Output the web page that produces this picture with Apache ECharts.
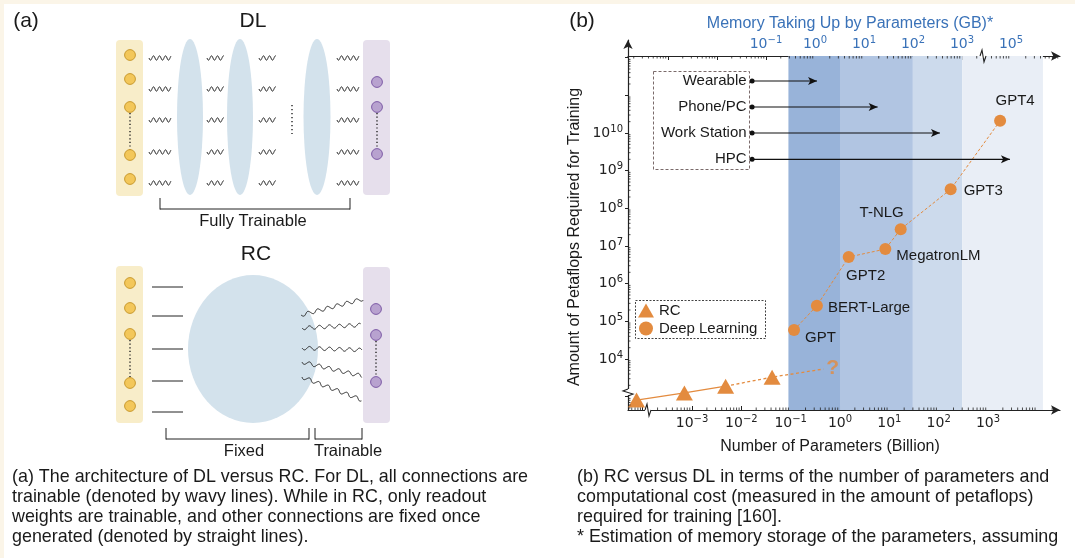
<!DOCTYPE html>
<html><head><meta charset="utf-8">
<script src="https://cdn.jsdelivr.net/npm/echarts@6/dist/echarts.min.js"></script>
<style>html,body{margin:0;padding:0;background:#FBF5E8}#c{width:1075px;height:558px}</style>
</head><body><div id="c"></div><script>
// ---------- DATA ----------
const dlNames = ['GPT', 'BERT-Large', 'GPT2', 'MegatronLM', 'T-NLG', 'GPT3', 'GPT4'];
const dlParams = [0.117, 0.34, 1.5, 8.3, 17, 175, 1760];          // billion
const dlPetaflops = [5.9e4, 2.6e5, 5.1e6, 8.3e6, 2.8e7, 3.2e8, 2.1e10];
const rcParams = [7.5e-5, 7e-4, 4.8e-3, 4.2e-2];
const rcPetaflops = [810, 1260, 1900, 3300];
const rcProjection = [0.46, 5400];
const rcProjectionLabel = '?';
const devices = ['Wearable', 'Phone/PC', 'Work Station', 'HPC'];
const deviceStartGB = [0.052, 0.052, 0.052, 0.052];
const deviceEndGB = [1.1, 19, 355, 9500];
const deviceRow = [2.4e11, 4.9e10, 1.0e10, 2.0e9];
const bandEdgesParams = [0.09, 1, 30, 300, 13000];
const yTickExps = [4, 5, 6, 7, 8, 9, 10];
const yTickSup = ['4', '5', '6', '7', '8', '9', '10'];
const xTickExps = [-3, -2, -1, 0, 1, 2, 3];
const xTickSup = ['−3', '−2', '−1', '0', '1', '2', '3'];
const memTickExps = [-1, 0, 1, 2, 3, 4];
const memTickSup = ['−1', '0', '1', '2', '3', '5'];
const captionA = ['(a) The architecture of DL versus RC. For DL, all connections are',
  'trainable (denoted by wavy lines). While in RC, only readout',
  'weights are trainable, and other connections are fixed once',
  'generated (denoted by straight lines).'];
const captionB = ['(b) RC versus DL in terms of the number of parameters and',
  'computational cost (measured in the amount of petaflops)',
  'required for training [160].',
  '* Estimation of memory storage of the parameters, assuming'];

// ---------- STYLE ----------
const ORANGE = '#E38B3F';
const BLUE = '#3A72B8';
const bandColors = ['#98B3D9', '#B1C5E2', '#CCDAEC', '#E9EEF6'];
const TXT = '#1a1a1a';
const SANS = '"Liberation Sans", Arial, sans-serif';
const DV = '"DejaVu Sans", sans-serif';
const X_MIN = Math.pow(10, -4.298), X_MAX = Math.pow(10, 4.46);
const M_MIN = Math.pow(10, -3.816), M_MAX = Math.pow(10, 5.0);
const Y_MIN = Math.pow(10, 2.646), Y_MAX = Math.pow(10, 12.469), Y_TOPAXIS = Math.pow(10, 12.044);

function labelFor(exps, sups) {
  return function (v) {
    const e = Math.log10(v), r = Math.round(e);
    if (Math.abs(e - r) > 1e-6) return '';
    const i = exps.indexOf(r);
    return i < 0 ? '' : '{b|10}{s|' + sups[i] + '}';
  };
}
function richFor(color) {
  return {
    b: {fontSize: 14, fontFamily: DV, color: color, lineHeight: 18},
    s: {fontSize: 10, fontFamily: DV, color: color, lineHeight: 11, verticalAlign: 'top'}
  };
}

// ---------- PANEL (a) GRAPHICS ----------
const g = [];
g.push({type: 'rect', z: -10, shape: {x: 4, y: 4, width: 1071, height: 554}, style: {fill: '#fff'}});
function text(t, x, y, size, opts) {
  opts = opts || {};
  g.push({type: 'text', z: 50, x: x, y: y, rotation: opts.rot || 0, style: {
    text: t, fontSize: size, fontFamily: opts.font || SANS, fill: opts.color || TXT,
    fontWeight: opts.weight || 'normal',
    align: opts.align || 'center', verticalAlign: opts.va || 'middle',
    textAlign: opts.align || 'center', textVerticalAlign: opts.va || 'middle',
    lineHeight: opts.lh || size}});
}
function line(x1, y1, x2, y2, st) {
  g.push({type: 'line', z: 20, shape: {x1: x1, y1: y1, x2: x2, y2: y2}, style: Object.assign({stroke: '#222', lineWidth: 1}, st || {})});
}
function wave(x0, y0, x1, y1, amp, period) {
  const dx = x1 - x0, dy = y1 - y0, L = Math.hypot(dx, dy), ux = dx / L, uy = dy / L;
  const pts = [];
  for (let s = 0; s <= L; s += 0.4) {
    const o = amp * Math.sin(2 * Math.PI * s / period);
    pts.push([x0 + ux * s - uy * o, y0 + uy * s + ux * o]);
  }
  g.push({type: 'polyline', z: 20, shape: {points: pts}, style: {stroke: '#222', lineWidth: 1, fill: null}});
}
function ell(cx, cy, rx, ry, fill) {
  g.push({type: 'circle', z: 5, x: cx, y: cy, scaleX: rx, scaleY: ry, shape: {cx: 0, cy: 0, r: 1}, style: {fill: fill}});
}
function node(cx, cy, fill, stroke) {
  g.push({type: 'circle', z: 21, shape: {cx: cx, cy: cy, r: 5.4}, style: {fill: fill, stroke: stroke, lineWidth: 1}});
}
function box(x, y, w, h, fill) {
  g.push({type: 'rect', z: 4, shape: {x: x, y: y, width: w, height: h, r: 4}, style: {fill: fill}});
}
const YF = '#F8EDC9', YC = '#F3C75A', YS = '#C99A2E', PF = '#E6DFEC', PC = '#B8A2CF', PS = '#7D5AA6', EL = '#D3E2EC';
text('(a)', 26, 21, 21);
text('(b)', 582, 21, 21);
// DL
text('DL', 253, 21, 21);
box(116, 40, 27, 156, YF);
box(363, 40, 27, 155, PF);
[55, 79, 107, 155, 179].forEach(y => node(130, y, YC, YS));
line(130, 113, 130, 150, {lineDash: [1.2, 2.4], lineWidth: 1.4});
[82, 107, 154].forEach(y => node(377, y, PC, PS));
line(377, 113, 377, 149, {lineDash: [1.2, 2.4], lineWidth: 1.4});
ell(190, 117, 13, 78, EL); ell(240, 117, 13, 78, EL); ell(317, 117, 13.5, 78, EL);
line(292, 105, 292, 134, {lineDash: [1.2, 2.8], lineWidth: 1.4});
const dlRows = [58, 89, 120, 152, 183];
[[149, 171], [207, 224], [259, 276], [337, 359]].forEach(c => dlRows.forEach(y => wave(c[0], y, c[1], y, 2.2, 6)));
line(160, 209, 350, 209); line(160, 198, 160, 209.5); line(350, 198, 350, 209.5);
text('Fully Trainable', 253, 221, 16.5);
// RC
text('RC', 256, 254, 21);
box(116, 266, 27, 157, YF);
box(363, 267, 27, 156, PF);
[283, 308, 334, 383, 406].forEach(y => node(130, y, YC, YS));
line(130, 340, 130, 378, {lineDash: [1.2, 2.4], lineWidth: 1.4});
[309, 335, 382].forEach(y => node(376, y, PC, PS));
line(376, 341, 376, 377, {lineDash: [1.2, 2.4], lineWidth: 1.4});
ell(253, 349, 65, 74, EL);
[287, 316, 349, 381, 412].forEach(y => line(152, y, 183, y));
[[301, 315, 363, 299], [302, 328, 361, 325], [302, 348, 362, 350], [302, 362, 362, 376], [302, 377, 362, 400]]
  .forEach(w => wave(w[0], w[1], w[2], w[3], 1.8, 10));
line(166, 439, 309, 439); line(166, 428, 166, 439.5); line(309, 428, 309, 439.5);
line(315, 439, 362, 439); line(315, 428, 315, 439.5); line(362, 428, 362, 439.5);
text('Fixed', 244, 451, 16.5);
text('Trainable', 348, 451, 16.5);
// captions
text(captionA.join('\n'), 12, 467, 17.9, {align: 'left', va: 'top', lh: 20});
text(captionB.join('\n'), 577, 467, 17.9, {align: 'left', va: 'top', lh: 20});
// panel (b) extra texts
text('Memory Taking Up by Parameters (GB)*', 850, 24, 16, {color: BLUE});
text('Number of Parameters (Billion)', 830, 447, 16);
text('Amount of Petaflops Required for Training', 575, 237, 16, {rot: Math.PI / 2});
// dashed boxes
g.push({type: 'rect', z: 30, shape: {x: 653.5, y: 71.5, width: 96, height: 98}, style: {fill: null, stroke: '#7a6a6a', lineWidth: 1, lineDash: [3, 2]}});
g.push({type: 'rect', z: 30, shape: {x: 635.5, y: 300.5, width: 130, height: 38}, style: {fill: '#fff', stroke: '#444', lineWidth: 1, lineDash: [2, 1.5]}});
// axis breaks
function zig(pts) { g.push({type: 'polyline', z: 40, shape: {points: pts}, style: {stroke: '#222', lineWidth: 1.1, fill: null}}); }
g.push({type: 'rect', z: 39, shape: {x: 645, y: 408, width: 6, height: 4}, style: {fill: '#fff'}});
zig([[645, 410], [647, 404], [649, 416], [651, 410]]);
g.push({type: 'rect', z: 39, shape: {x: 626, y: 389, width: 4, height: 6}, style: {fill: '#fff'}});
zig([[628, 389], [623, 391], [633, 394], [628, 396]]);
g.push({type: 'rect', z: 39, shape: {x: 980, y: 54, width: 6, height: 4}, style: {fill: '#fff'}});
zig([[980, 56], [982, 50], [984, 62], [986, 56]]);

// ---------- CHART ----------
const chart = echarts.init(document.getElementById('c'), null, {renderer: 'canvas'});
const axisLineStyle = {color: '#222', width: 1.2};
const dlData = dlParams.map((x, i) => {
  const pos = [['right', [1, 8]], ['right', [1, 2]], ['bottom', [17, 1]], ['right', [1, 7]], ['top', [-19, 1]], ['right', [3, 2]], ['top', [15, -3]]][i];
  return {value: [x, dlPetaflops[i]], label: {position: pos[0], offset: pos[1]}};
});
// minor ticks (2..9 x 10^k) drawn through the axes' own scales
function minorVals(lo, hi) {
  const out = [];
  for (let k = Math.floor(Math.log10(lo)); k <= Math.ceil(Math.log10(hi)); k++)
    for (let m = 2; m <= 9; m++) { const v = m * Math.pow(10, k); if (v > lo && v < hi) out.push(v); }
  return out;
}
function minorTickSeries(axisKind) {
  return {
    type: 'custom', name: 'minor-' + axisKind, xAxisIndex: axisKind === 'top' ? 1 : 0, yAxisIndex: 0, z: 6, silent: true,
    data: [0], clip: false,
    renderItem: function (params, api) {
      const ch = [];
      const st = {stroke: '#222', lineWidth: 0.8};
      if (axisKind === 'bottom') {
        minorVals(X_MIN, X_MAX).forEach(v => { const p = api.coord([v, Y_MIN]); ch.push({type: 'line', shape: {x1: p[0], y1: p[1], x2: p[0], y2: p[1] - 2.5}, style: st}); });
      } else if (axisKind === 'top') {
        minorVals(M_MIN, M_MAX).forEach(v => { const p = api.coord([v, Y_TOPAXIS]); ch.push({type: 'line', shape: {x1: p[0], y1: p[1], x2: p[0], y2: p[1] + 2.5}, style: st}); });
      } else {
        minorVals(Y_MIN, Y_MAX).forEach(v => { const p = api.coord([X_MIN, v]); ch.push({type: 'line', shape: {x1: p[0], y1: p[1], x2: p[0] + 2.5, y2: p[1]}, style: st}); });
      }
      return {type: 'group', children: ch};
    }
  };
}
const series = [
  {
    type: 'custom', name: 'bands', xAxisIndex: 0, yAxisIndex: 0, z: 1, silent: true,
    data: bandColors.map((c, i) => [bandEdgesParams[i], bandEdgesParams[i + 1], i]),
    renderItem: function (params, api) {
      const p0 = api.coord([api.value(0), Y_TOPAXIS]);
      const p1 = api.coord([api.value(1), Y_MIN]);
      return {type: 'rect', shape: {x: p0[0], y: p0[1], width: p1[0] - p0[0], height: p1[1] - p0[1]},
        style: {fill: bandColors[api.value(2)]}};
    }
  },
  minorTickSeries('bottom'), minorTickSeries('top'), minorTickSeries('left'),
  {
    type: 'line', name: 'Deep Learning', xAxisIndex: 0, yAxisIndex: 0, z: 5,
    data: dlData, symbol: 'circle', symbolSize: 12,
    itemStyle: {color: ORANGE}, lineStyle: {color: ORANGE, width: 1, type: [3, 2]},
    label: {show: true, fontSize: 15, fontFamily: SANS, color: TXT, distance: 4,
      formatter: p => dlNames[p.dataIndex]}
  },
  {
    type: 'line', name: 'RC', xAxisIndex: 0, yAxisIndex: 0, z: 5,
    data: rcParams.slice(0, 3).map((x, i) => [x, rcPetaflops[i]]),
    symbol: 'triangle', symbolSize: [17, 15],
    itemStyle: {color: ORANGE}, lineStyle: {color: ORANGE, width: 1.3}
  },
  {
    type: 'line', name: 'RC projection', xAxisIndex: 0, yAxisIndex: 0, z: 5,
    data: [
      {value: [rcParams[2], rcPetaflops[2]], symbol: 'none'},
      {value: [rcParams[3], rcPetaflops[3]], symbol: 'triangle', symbolSize: [17, 15]},
      {value: rcProjection, symbol: 'none'}
    ],
    itemStyle: {color: ORANGE}, lineStyle: {color: ORANGE, width: 1.3, type: [3, 2.5]}
  },
  {
    type: 'scatter', name: 'RC projection label', xAxisIndex: 0, yAxisIndex: 0, z: 7, silent: true,
    data: [rcProjection], symbol: 'circle', symbolSize: 2, itemStyle: {color: 'rgba(0,0,0,0)'},
    label: {show: true, formatter: rcProjectionLabel, position: 'right', distance: 2,
      fontSize: 21, color: ORANGE, fontFamily: SANS, fontWeight: 'bold', offset: [0, -1]}
  }
];
devices.forEach((d, i) => {
  series.push({
    type: 'line', name: d, xAxisIndex: 1, yAxisIndex: 0, z: 8,
    data: [
      {value: [deviceStartGB[i], deviceRow[i]], symbol: 'circle', symbolSize: 5,
        label: {show: true, position: 'left', distance: 3, formatter: d, fontSize: 15, fontFamily: SANS, color: TXT}},
      {value: [deviceEndGB[i], deviceRow[i]], symbol: 'arrow', symbolSize: [6, 9], symbolRotate: -90}
    ],
    itemStyle: {color: '#111'}, lineStyle: {color: '#111', width: 1.1}
  });
});

chart.setOption({
  backgroundColor: '#FBF5E8',
  animation: false,
  graphic: {elements: g},
  legend: {
    data: [{name: 'RC', icon: 'triangle'}, {name: 'Deep Learning', icon: 'circle'}],
    orient: 'vertical', left: 638, top: 303, itemWidth: 16, itemHeight: 14, itemGap: 3, padding: 0,
    textStyle: {fontSize: 15, fontFamily: SANS, color: TXT}, z: 40
  },
  grid: {left: 628, right: 15, top: 40, bottom: 148},
  xAxis: [
    {
      type: 'log', position: 'bottom', min: X_MIN, max: X_MAX,
      axisLine: {lineStyle: axisLineStyle, symbol: ['none', 'arrow'], symbolSize: [7, 9]},
      axisTick: {inside: true, length: 4, lineStyle: {color: '#222'}},
      axisLabel: {formatter: labelFor(xTickExps, xTickSup), rich: richFor('#222'), margin: 4,
        showMinLabel: false, showMaxLabel: false},
      splitLine: {show: false}
    },
    {
      type: 'log', position: 'top', offset: -16, min: M_MIN, max: M_MAX,
      axisLine: {lineStyle: axisLineStyle, symbol: ['none', 'arrow'], symbolSize: [7, 9]},
      axisTick: {inside: true, length: 4, lineStyle: {color: '#222'}},
      axisLabel: {formatter: labelFor(memTickExps, memTickSup), rich: richFor(BLUE), margin: 3,
        showMinLabel: false, showMaxLabel: false},
      splitLine: {show: false}
    }
  ],
  yAxis: {
    type: 'log', min: Y_MIN, max: Y_MAX,
    axisLine: {lineStyle: axisLineStyle, symbol: ['none', 'arrow'], symbolSize: [7, 9]},
    axisTick: {inside: false, length: 3, lineStyle: {color: '#222'}},
    axisLabel: {formatter: labelFor(yTickExps, yTickSup), rich: richFor('#222'), margin: 5,
      showMinLabel: false, showMaxLabel: false},
    splitLine: {show: false}
  },
  series: series
});
</script></body></html>
